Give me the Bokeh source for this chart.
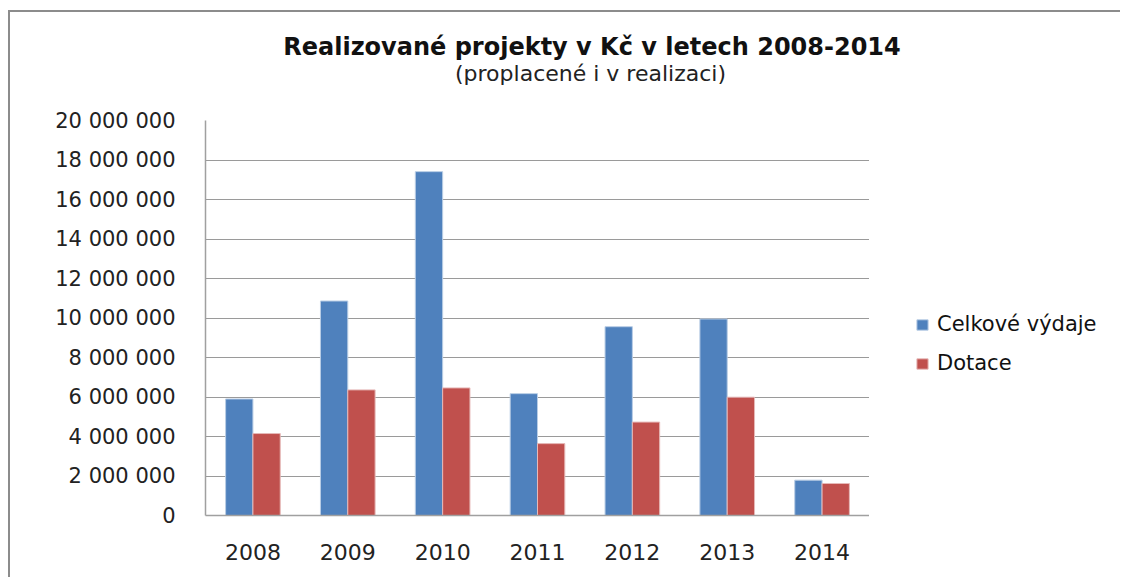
from bokeh.plotting import figure
from bokeh.models import (ColumnDataSource, FactorRange, Range1d, FixedTicker,
                          Legend, LegendItem, Label)
from bokeh.layouts import row, column
from bokeh.transform import dodge
from bokeh.embed import file_html
from bokeh.resources import INLINE

# ---- data ----
years = ["2008", "2009", "2010", "2011", "2012", "2013", "2014"]
celkove_vydaje = [5900000, 10860000, 17410000, 6170000, 9560000, 9950000, 1790000]
dotace = [4150000, 6360000, 6460000, 3640000, 4730000, 5990000, 1620000]
y_ticks = [0, 2000000, 4000000, 6000000, 8000000, 10000000,
           12000000, 14000000, 16000000, 18000000, 20000000]
y_tick_labels = ["0", "2 000 000", "4 000 000", "6 000 000", "8 000 000",
                 "10 000 000", "12 000 000", "14 000 000", "16 000 000",
                 "18 000 000", "20 000 000"]
series_names = ["Celkové výdaje", "Dotace"]
title_text = "Realizované projekty v Kč v letech 2008-2014"
subtitle_text = "(proplacené i v realizaci)"

BLUE = "#4F81BD"
RED = "#C0504D"
FONT = "DejaVu Sans"

W = 1110
H_TITLE = 88
H_MAIN = 477
W_MAIN = 859
W_LEG = W - W_MAIN
BL, BT, BB = 195, 20, 62
YMAX = 20000000

source = ColumnDataSource(dict(year=years, celk=celkove_vydaje, dot=dotace))

# ---- title strip ----
pt = figure(x_range=Range1d(0, W), y_range=Range1d(H_TITLE, 0),
            width=W, height=H_TITLE, output_backend="svg", toolbar_location=None,
            x_axis_type=None, y_axis_type=None, min_border=0)
pt.outline_line_color = None
pt.grid.visible = False
pt.add_layout(Label(x=581.5, y=34.7, text=title_text, text_font=FONT,
                    text_font_style="bold", text_font_size="24px",
                    text_color="#111111", text_align="center",
                    text_baseline="alphabetic"))
pt.add_layout(Label(x=580, y=61.3, text=subtitle_text, text_font=FONT,
                    text_font_size="22px", text_color="#222222",
                    text_align="center", text_baseline="alphabetic"))

# ---- main chart ----
p = figure(x_range=FactorRange(*years, range_padding=0), y_range=Range1d(0, YMAX),
           width=W_MAIN, height=H_MAIN, output_backend="svg", toolbar_location=None,
           min_border_left=BL, min_border_right=0, min_border_top=BT,
           min_border_bottom=BB)
p.outline_line_color = None
p.background_fill_color = "white"
p.border_fill_color = "white"

bw = 0.288
p.vbar(x=dodge("year", -bw / 2, range=p.x_range), top="celk", width=bw,
       source=source, fill_color=BLUE, line_color="#b9cde5", line_width=1)
p.vbar(x=dodge("year", bw / 2, range=p.x_range), top="dot", width=bw,
       source=source, fill_color=RED, line_color="#e6b9b8", line_width=1)

p.yaxis.ticker = FixedTicker(ticks=y_ticks)
p.yaxis.major_label_overrides = {t: l for t, l in zip(y_ticks, y_tick_labels)}
p.yaxis.major_label_text_font = FONT
p.yaxis.major_label_text_font_size = "21px"
p.yaxis.major_label_text_color = "#222222"
p.yaxis.major_label_standoff = 30
p.yaxis.major_tick_line_color = None
p.yaxis.minor_tick_line_color = None
p.yaxis.major_tick_out = 0
p.yaxis.axis_line_color = "#a0a0a0"
p.yaxis.axis_line_width = 1.5

p.xaxis.major_label_text_font = FONT
p.xaxis.major_label_text_font_size = "22px"
p.xaxis.major_label_text_color = "#222222"
p.xaxis.major_label_standoff = 28
p.xaxis.major_tick_line_color = None
p.xaxis.major_tick_out = 0
p.xaxis.axis_line_color = "#a0a0a0"
p.xaxis.axis_line_width = 1.5

p.xgrid.grid_line_color = None
p.ygrid.grid_line_color = "#9a9a9a"
p.ygrid.grid_line_width = 1.2

# ---- legend panel ----
pl = figure(x_range=FactorRange(*years), y_range=Range1d(0, YMAX),
            width=W_LEG, height=H_MAIN, output_backend="svg", toolbar_location=None,
            x_axis_type=None, y_axis_type=None,
            min_border_left=0, min_border_right=0, min_border_top=BT,
            min_border_bottom=BB)
pl.outline_line_color = None
pl.grid.visible = False
pl.background_fill_color = "white"
pl.border_fill_color = "white"
l1 = pl.vbar(x="year", top="celk", width=bw, source=source,
             fill_color=BLUE, line_color="#b9cde5", line_width=1, visible=False)
l2 = pl.vbar(x="year", top="dot", width=bw, source=source,
             fill_color=RED, line_color="#e6b9b8", line_width=1, visible=False)

legend = Legend(items=[LegendItem(label=series_names[0], renderers=[l1]),
                       LegendItem(label=series_names[1], renderers=[l2])],
                location=(46, 140), orientation="vertical",
                glyph_width=14, glyph_height=13, label_standoff=8,
                label_text_font=FONT, label_text_font_size="21px",
                label_text_color="#111111", spacing=15, padding=0, margin=0,
                border_line_color=None, background_fill_alpha=0)
pl.add_layout(legend, "center")

layout = column(pt, row(p, pl, spacing=0), spacing=0)
layout.styles = {"border-left": "2px solid #8c8c8c", "border-top": "2px solid #8c8c8c",
                 "margin-left": "8px", "margin-top": "10px"}

open("out.html", "w").write(file_html(layout, INLINE))
